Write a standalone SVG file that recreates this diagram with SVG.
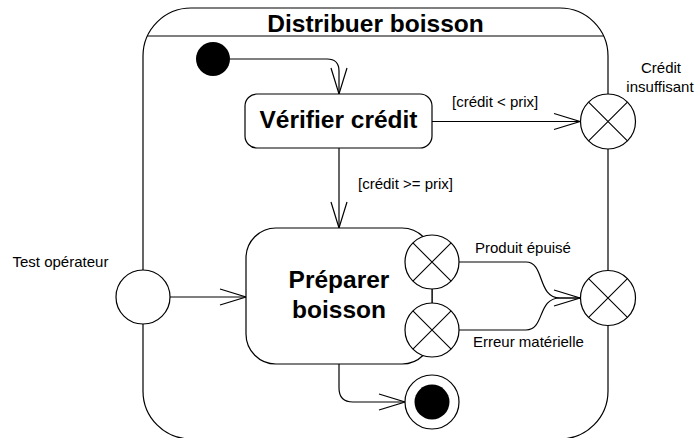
<svg xmlns="http://www.w3.org/2000/svg" width="696" height="438" viewBox="0 0 696 438">
<style>
.ln{fill:none;stroke:#000;stroke-width:1.2}
.nd{fill:#fff;stroke:#000;stroke-width:1.2}
.x{stroke:#000;stroke-width:1.1}
.lbl{font-family:"Liberation Sans",Arial,sans-serif;font-size:15px;fill:#000}
.big{font-family:"Liberation Sans",Arial,sans-serif;font-size:24.5px;font-weight:bold;fill:#000}
</style>
<defs>
<marker id="arr" markerUnits="userSpaceOnUse" markerWidth="30" markerHeight="20" viewBox="-28 -10 30 20" refX="0" refY="0" orient="auto" overflow="visible">
<path d="M-26,-8 L0,0 L-26,8" fill="none" stroke="#000" stroke-width="1.2"/>
</marker>
</defs>
<g id="distribuer-boisson">
<rect class="nd" x="143" y="8" width="465" height="431" rx="48"/>
<line class="ln" x1="147.4" y1="36" x2="603.6" y2="36"/>
<text class="big" x="375.5" y="32" text-anchor="middle">Distribuer boisson</text>
</g>
<g id="connectors">
<path class="ln" d="M230,59 H327 Q339,59 339,71 V94" marker-end="url(#arr)"/>
<path class="ln" d="M432,121.5 H580" marker-end="url(#arr)"/>
<text class="lbl" x="452" y="107">[crédit &lt; prix]</text>
<path class="ln" d="M339,148 V228" marker-end="url(#arr)"/>
<text class="lbl" x="358" y="189">[crédit &gt;= prix]</text>
<path class="ln" d="M170,297 H246" marker-end="url(#arr)"/>
<path class="ln" d="M459,262 H526 C545,262 537,298 560,298 H580" marker-end="url(#arr)"/>
<path class="ln" d="M459,330 H526 C545,330 537,298 560,298 H580"/>
<text class="lbl" x="475" y="253">Produit épuisé</text>
<text class="lbl" x="473" y="347">Erreur matérielle</text>
<line class="ln" x1="432" y1="289" x2="432" y2="303"/>
<path class="ln" d="M339,364 V388 Q339,402 353,402 H405" marker-end="url(#arr)"/>
</g>
<g id="initial">
<circle cx="213" cy="59" r="17" fill="#000"/>
</g>
<g id="verifier-credit">
<rect class="nd" x="245" y="94" width="187" height="54" rx="12"/>
<text class="big" x="338.5" y="128" text-anchor="middle">Vérifier crédit</text>
</g>
<g id="preparer-boisson">
<rect class="nd" x="246" y="228" width="186" height="136" rx="30"/>
<text class="big" x="339" y="288" text-anchor="middle">Préparer</text>
<text class="big" x="339" y="318" text-anchor="middle">boisson</text>
</g>
<g id="exit-produit-epuise">
<circle class="nd" cx="432" cy="262" r="27"/>
<path class="x" d="M412.9,242.9 L451.1,281.1 M451.1,242.9 L412.9,281.1"/>
</g>
<g id="exit-erreur-materielle">
<circle class="nd" cx="432" cy="330" r="27"/>
<path class="x" d="M412.9,310.9 L451.1,349.1 M451.1,310.9 L412.9,349.1"/>
</g>
<g id="credit-insuffisant">
<circle class="nd" cx="608" cy="121.5" r="27.5"/>
<path class="x" d="M588.6,102.1 L627.4,140.9 M627.4,102.1 L588.6,140.9"/>
<text class="lbl" x="661" y="73" text-anchor="middle">Crédit</text>
<text class="lbl" x="660" y="92" text-anchor="middle">insuffisant</text>
</g>
<g id="exit-droite">
<circle class="nd" cx="608" cy="298" r="27.5"/>
<path class="x" d="M588.6,278.6 L627.4,317.4 M627.4,278.6 L588.6,317.4"/>
</g>
<g id="test-operateur">
<circle class="nd" cx="143" cy="297" r="27"/>
<text class="lbl" x="12.5" y="267">Test opérateur</text>
</g>
<g id="final">
<circle class="nd" cx="432" cy="402" r="27"/>
<circle cx="432" cy="402" r="17.5" fill="#000"/>
</g>
</svg>
